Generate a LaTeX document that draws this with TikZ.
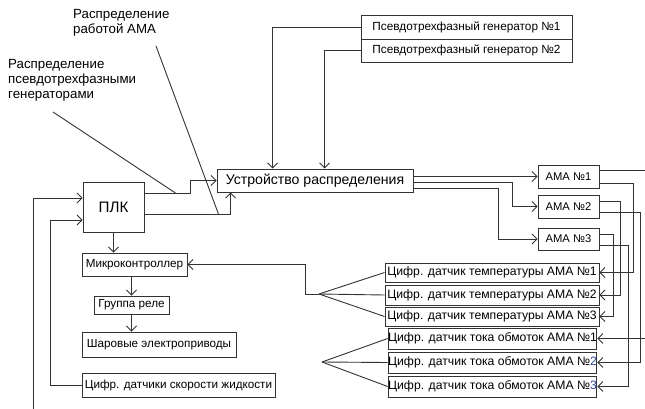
\documentclass[tikz,border=0pt]{standalone}
\usepackage{fontspec}
\setmainfont{Liberation Sans}
\usepackage{xcolor}
\usetikzlibrary{arrows.meta,positioning,calc}
\definecolor{numblue}{RGB}{45,75,160}

\begin{document}
\begin{tikzpicture}[x=1pt, y=-1pt, >={Straight Barb[length=5pt,width=10pt]},
  box/.style={rectangle, draw=black!80, line width=0.9pt, inner sep=0pt, align=center, font=\fontsize{11.7}{14}\selectfont},
  sensor/.style={box, minimum width=214pt, font=\fontsize{12.2}{14}\selectfont},
  amabox/.style={box, minimum width=61pt, font=\fontsize{11.2}{14}\selectfont},
  lbl/.style={align=left, anchor=north west, inner sep=0pt, font=\fontsize{13.3}{15}\selectfont},
  arrow/.style={->, draw=black!80, line width=0.9pt},
  line/.style={draw=black!80, line width=0.9pt}]
  \useasboundingbox (0,0) rectangle (645,409);

  % Labels
  \node[lbl] (labama) at (73,9) {Распределение\\работой АМА};
  \node[lbl] (labgen) at (8,59) {Распределение\\псевдотрехфазными\\генераторами};

  % Generators
  \node[box, minimum width=211pt, minimum height=24pt, font=\fontsize{11.8}{14}\selectfont] (gen1) at (466.5,27) {Псевдотрехфазный генератор №1};
  \node[box, minimum width=211pt, minimum height=23pt, font=\fontsize{11.8}{14}\selectfont] (gen2) at (466.5,50.5) {Псевдотрехфазный генератор №2};

  % PLC and distribution device
  \node[box, minimum width=61pt, minimum height=50pt, font=\fontsize{15.2}{18}\selectfont] (plc) at (113.5,207) {ПЛК};
  \node[box, minimum width=196pt, minimum height=23pt, font=\fontsize{14.1}{16}\selectfont] (dist) at (315,180.5) {Устройство распределения};

  % AMA
  \node[amabox, minimum height=23pt] (ama1) at (568.5,176.5) {АМА №1};
  \node[amabox, minimum height=23pt] (ama2) at (568.5,206.5) {АМА №2};
  \node[amabox, minimum height=22pt] (ama3) at (568.5,239) {АМА №3};

  % Temperature sensors
  \node[sensor, minimum height=19pt] (temp1) at (492,272.5) {Цифр. датчик температуры АМА №1};
  \node[sensor, minimum height=20pt] (temp2) at (492,295) {Цифр. датчик температуры АМА №2};
  \node[sensor, minimum height=19pt] (temp3) at (492,316.5) {Цифр. датчик температуры АМА №3};

  % Current sensors
  \node[sensor, minimum width=207pt, minimum height=21pt] (cur1) at (492.5,338.5) {Цифр. датчик тока обмоток АМА №1};
  \node[sensor, minimum width=207pt, minimum height=21pt] (cur2) at (492.5,362.5) {Цифр. датчик тока обмоток АМА №{\color{numblue}2}};
  \node[sensor, minimum width=207pt, minimum height=21pt] (cur3) at (492.5,386.5) {Цифр. датчик тока обмоток АМА №{\color{numblue}3}};

  % Left column
  \node[box, minimum width=105pt, minimum height=23pt] (mcu) at (134.5,264.5) {Микроконтроллер};
  \node[box, minimum width=75pt, minimum height=18pt] (relay) at (131.5,305) {Группа реле};
  \node[box, minimum width=154pt, minimum height=25pt] (valves) at (159,344.5) {Шаровые электроприводы};
  \node[box, minimum width=193pt, minimum height=24pt] (speed) at (178.5,385) {Цифр. датчики скорости жидкости};

  % Free ends
  \coordinate (fantemp) at (319,294);
  \coordinate (fancur) at (322,362);
  \coordinate (outama) at (645,170);
  \coordinate (incur) at (645,338.5);
  \coordinate (bottom) at (33,409);
  \coordinate (tipama) at (156,46);
  \coordinate (tipgen) at (53,112);

  % Generators -> distribution
  \draw[arrow] (gen1.west) -| ($(dist.north west)+(56,0)$);
  \draw[arrow] (gen2.west) -| ($(dist.north west)+(108,0)$);

  % PLC -> distribution
  \draw[arrow] ($(plc.east)+(0,-14)$) -- ++(46,0) |- (dist.west);
  \draw[arrow] ($(plc.east)+(0,7)$) -| ($(dist.south west)+(14,0)$);

  % Leader lines
  \draw[line] (tipama) -- ($(plc.east)+(74,7)$);
  \draw[line] (tipgen) -- ($(plc.east)+(31,-14)$);

  % Distribution -> AMA
  \draw[arrow] ($(dist.east)+(0,-4)$) -- (ama1.west);
  \draw[arrow] ($(dist.east)+(0,1.5)$) -- ++(99,0) |- (ama2.west);
  \draw[arrow] ($(dist.east)+(0,7.5)$) -- ++(85,0) |- (ama3.west);

  % AMA -> sensors
  \draw[line] ($(ama1.east)+(0,-6.5)$) -- (outama);
  \draw[arrow] ($(ama1.east)+(0,6.5)$) -- ++(34,0) |- (temp1.east);
  \draw[arrow] ($(ama2.east)+(0,-5.5)$) -- ++(21,0) |- (temp2.east);
  \draw[arrow] ($(ama2.east)+(0,5.5)$) -- ++(41,0) |- (cur2.east);
  \draw[arrow] ($(ama3.east)+(0,-5)$) -- ++(14,0) |- (temp3.east);
  \draw[arrow] ($(ama3.east)+(0,6)$) -- ++(29,0) |- (cur3.east);
  \draw[arrow] (incur) -- (cur1.east);

  % Sensor fans
  \draw[line] (fantemp) -- (temp1.west);
  \draw[line] (fantemp) -- (temp2.west);
  \draw[line] (fantemp) -- (temp3.west);
  \draw[arrow] (fantemp) -- ++(-14,0) |- (mcu.east);
  \draw[line] (fancur) -- (cur1.west);
  \draw[line] (fancur) -- (cur2.west);
  \draw[line] (fancur) -- (cur3.west);

  % Left column chain
  \draw[arrow] (plc.south) -- (plc.south |- mcu.north);
  \draw[arrow] (relay.north |- mcu.south) -- (relay.north);
  \draw[arrow] (relay.south) -- (relay.south |- valves.north);

  % Inputs to PLC
  \draw[arrow] (bottom) |- ($(plc.west)+(0,-9)$);
  \draw[arrow] (speed.west) -- ++(-31,0) |- ($(plc.west)+(0,13)$);
\end{tikzpicture}
\end{document}
